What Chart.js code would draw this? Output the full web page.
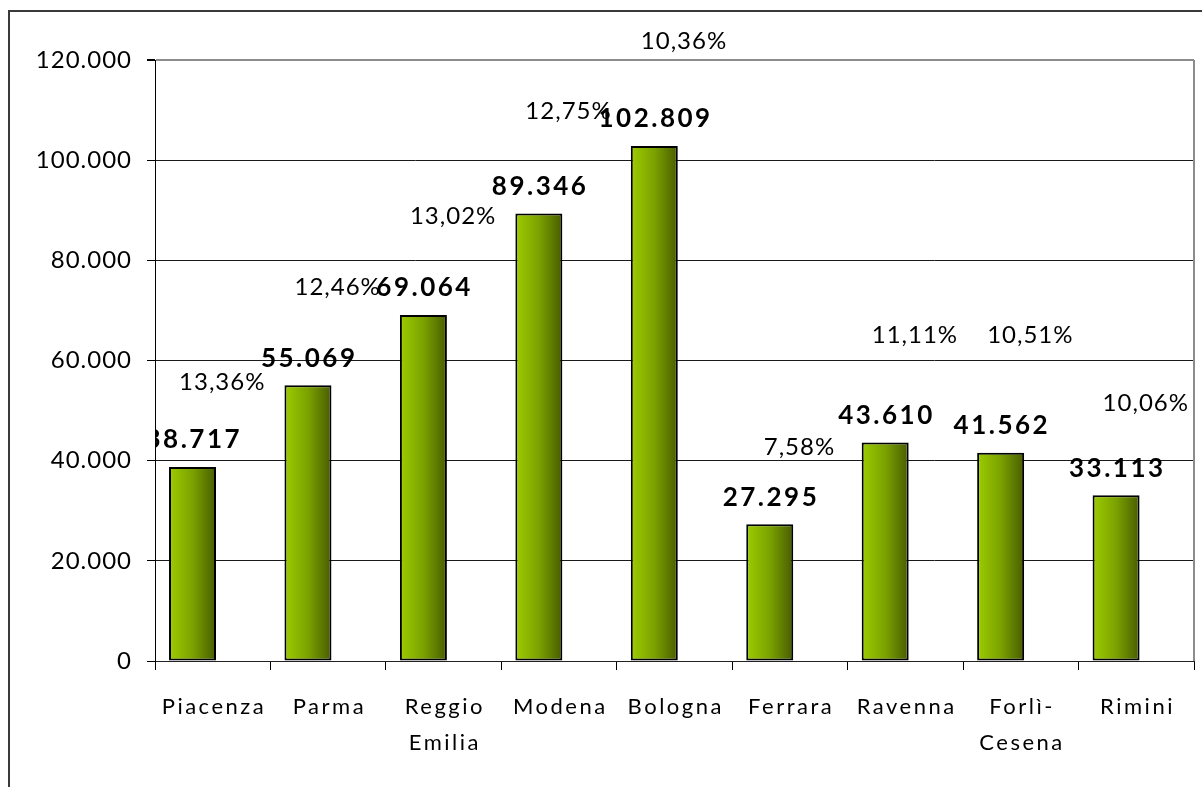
<!DOCTYPE html>
<html>
<head>
<meta charset="utf-8">
<script src="https://cdn.jsdelivr.net/npm/chart.js@4.4.1/dist/chart.umd.min.js"></script>
<style>
  html, body { margin: 0; padding: 0; background: #fff; }
  canvas { display: block; }
</style>
</head>
<body>
<canvas id="provChart" width="1202" height="787"></canvas>
<script>
// Data
const provinces = ["Piacenza", "Parma", "Reggio Emilia", "Modena", "Bologna", "Ferrara", "Ravenna", "Forlì-Cesena", "Rimini"];
const totals = [38717, 55069, 69064, 89346, 102809, 27295, 43610, 41562, 33113];
const shares = [13.36, 12.46, 13.02, 12.75, 10.36, 7.58, 11.11, 10.51, 10.06];
// hidden second series: where Excel left the share labels (value on the y axis)
const shareAnchor = [55700, 74700, 88700, 109800, 123800, 42700, 65100, 65100, 51500];
const yTicks = [0, 20000, 40000, 60000, 80000, 100000, 120000];

const FONT = "Lato, 'Open Sans', sans-serif";

function fmtNum(v) {
  return String(v).replace(/\B(?=(\d{3})+(?!\d))/g, ".");
}
function fmtPct(v) {
  return v.toFixed(2).replace(".", ",") + "%";
}
function wrapLabel(s) {
  if (s.includes("-")) return [s.slice(0, s.indexOf("-") + 1), s.slice(s.indexOf("-") + 1)];
  return s.split(" ");
}

function barGradient(c) {
  const el = c.element;
  if (!el || !isFinite(el.x) || !isFinite(el.width)) return "#78a000";
  const g = c.chart.ctx.createLinearGradient(el.x - el.width / 2, 0, el.x + el.width / 2, 0);
  g.addColorStop(0, "#9dcc00");
  g.addColorStop(0.5, "#7ba200");
  g.addColorStop(1, "#485c00");
  return g;
}

// spaced text, centred on x (letterSpacing also pads the last glyph)
function spacedText(ctx, text, x, y, spacing) {
  ctx.letterSpacing = spacing + "px";
  ctx.fillText(text, x + spacing / 2, y);
  ctx.letterSpacing = "0px";
}

// frame, right border, labels
const decor = {
  id: "decor",
  beforeDraw(chart) {
    const ctx = chart.ctx;
    ctx.save();
    ctx.strokeStyle = "#3a3a3a";
    ctx.lineWidth = 2;
    ctx.strokeRect(9, 11, 1400, 1000);
    ctx.restore();
  },
  afterDatasetsDraw(chart) {
    const ctx = chart.ctx;
    const area = chart.chartArea;
    const x = chart.scales.x, y = chart.scales.y;
    const meta = chart.getDatasetMeta(0);

    // right border of plot
    ctx.save();
    ctx.strokeStyle = "#8c8c8c";
    ctx.lineWidth = 2;
    ctx.beginPath();
    ctx.moveTo(area.right, area.top);
    ctx.lineTo(area.right, area.bottom);
    ctx.stroke();
    ctx.restore();

    // value labels (clipped to plot)
    ctx.save();
    ctx.beginPath();
    ctx.rect(area.left, 0, area.right - area.left, area.bottom);
    ctx.clip();
    ctx.font = "bold 26px " + FONT;
    ctx.fillStyle = "#000";
    ctx.textAlign = "center";
    ctx.textBaseline = "middle";
    meta.data.forEach((bar, i) => {
      spacedText(ctx, fmtNum(totals[i]), bar.x, bar.y - 27, 2.5);
    });
    ctx.restore();

    // share labels
    ctx.save();
    ctx.font = "24px " + FONT;
    ctx.fillStyle = "#000";
    ctx.textAlign = "center";
    ctx.textBaseline = "middle";
    shares.forEach((s, i) => {
      spacedText(ctx, fmtPct(s), x.getPixelForValue(i) + 9, y.getPixelForValue(shareAnchor[i]), 1);
    });
    ctx.restore();

    // category labels
    ctx.save();
    ctx.font = "22px " + FONT;
    ctx.fillStyle = "#000";
    ctx.textAlign = "center";
    ctx.textBaseline = "middle";
    provinces.forEach((p, i) => {
      wrapLabel(p).forEach((line, k) => {
        spacedText(ctx, line, x.getPixelForValue(i), area.bottom + 46 + k * 36, 2.5);
      });
    });
    ctx.restore();

    // y tick labels
    ctx.save();
    ctx.font = "24px " + FONT;
    ctx.fillStyle = "#000";
    ctx.textAlign = "right";
    ctx.textBaseline = "middle";
    ctx.letterSpacing = "1px";
    yTicks.forEach(v => {
      ctx.fillText(fmtNum(v), area.left - 23, y.getPixelForValue(v));
    });
    ctx.restore();
  }
};

function build() {
  const chart = new Chart(document.getElementById("provChart").getContext("2d"), {
    type: "bar",
    data: {
      labels: provinces,
      datasets: [{
        label: "Totale",
        data: totals,
        backgroundColor: barGradient,
        borderColor: "#000",
        borderWidth: 2,
        borderSkipped: false,
        categoryPercentage: 0.7,
        barPercentage: 1.163
      }, {
        label: "Quota",
        data: shareAnchor,
        backgroundColor: "rgba(0,0,0,0)",
        borderWidth: 0,
        categoryPercentage: 0.7,
        barPercentage: 1.163
      }]
    },
    options: {
      responsive: false,
      animation: false,
      events: [],
      layout: { padding: { left: 0, top: 60, right: 8, bottom: 0 } },
      plugins: { legend: { display: false }, tooltip: { enabled: false } },
      scales: {
        x: {
          offset: true,
          grid: { offset: true, drawOnChartArea: false, drawTicks: true, tickLength: 9, tickColor: "#000" },
          border: { color: "#222", width: 1 },
          ticks: { display: false },
          afterFit: s => { s.height = 126; }
        },
        y: {
          min: 0,
          max: 120000,
          afterBuildTicks: s => { s.ticks = yTicks.map(v => ({ value: v })); },
          grid: {
            color: c => c.tick && c.tick.value === 120000 ? "#8c8c8c" : "#1a1a1a",
            lineWidth: c => c.tick && c.tick.value === 120000 ? 2 : 1,
            tickLength: 8,
            tickColor: "#000"
          },
          border: { color: "#000", width: 1 },
          ticks: { display: false },
          afterFit: s => { s.width = 155; }
        }
      }
    },
    plugins: [decor]
  });
  // second pass so the bar gradients know each bar's position
  chart.update();
}

Promise.all([
  document.fonts.load("24px Lato"),
  document.fonts.load("bold 26px Lato"),
  document.fonts.load("22px Lato")
]).then(build, build);
</script>
</body>
</html>
